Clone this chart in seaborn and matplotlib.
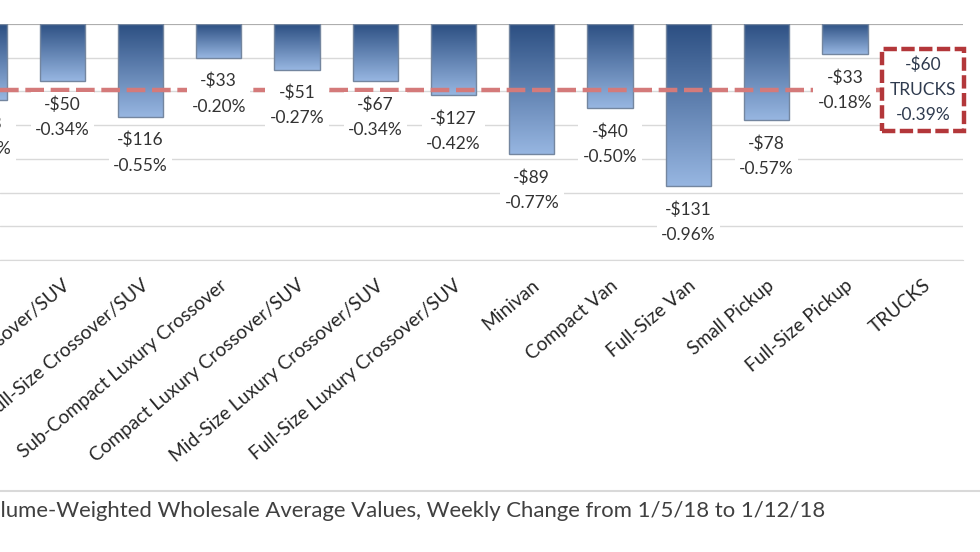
import numpy as np
import pandas as pd
import matplotlib.pyplot as plt
import seaborn as sns
from matplotlib.colors import LinearSegmentedColormap
from matplotlib.lines import Line2D

# Segment data (weekly change, 1/5/18 -> 1/12/18)
segments = ["Compact Crossover/SUV", "Mid-Size Crossover/SUV", "Full-Size Crossover/SUV",
            "Sub-Compact Luxury Crossover", "Compact Luxury Crossover/SUV",
            "Mid-Size Luxury Crossover/SUV", "Full-Size Luxury Crossover/SUV",
            "Minivan", "Compact Van", "Full-Size Van", "Small Pickup",
            "Full-Size Pickup", "TRUCKS"]
dollar_change = [-63, -50, -116, -33, -51, -67, -127, -89, -40, -131, -78, -33, -60]
pct_change = [-0.45, -0.34, -0.55, -0.20, -0.27, -0.34, -0.42, -0.77, -0.50, -0.96,
              -0.57, -0.18, -0.39]
caption = "Volume-Weighted Wholesale Average Values, Weekly Change from 1/5/18 to 1/12/18"

df = pd.DataFrame({"Segment": segments, "Pct": pct_change, "Dollar": dollar_change})

sns.set_style("white")
plt.rcParams['font.family'] = ['Lato', 'DejaVu Sans']

fig = plt.figure(figsize=(9.8, 5.52), dpi=100)
ax = fig.add_axes([0, 1 - 260 / 552, 963 / 980, (260 - 24) / 552])

sns.barplot(data=df, x="Segment", y="Pct", color="#5b7fb5", edgecolor="#74869f",
            linewidth=1, width=0.58, ax=ax, zorder=3)

# gradient fill for the bars
cmap = LinearSegmentedColormap.from_list("bar", ["#2c4f82", "#97b6e1"])
grad = np.linspace(0, 1, 256).reshape(-1, 1)
for patch, seg in zip(ax.patches, segments):
    if seg == "TRUCKS":
        patch.set_visible(False)
        continue
    x0, y0 = patch.get_x(), patch.get_y()
    w, h = patch.get_width(), patch.get_height()
    im = ax.imshow(grad, cmap=cmap, aspect="auto", origin="upper",
                   extent=[x0, x0 + w, y0 + h, y0], zorder=2.5)
    im.set_clip_path(patch)
    patch.set_facecolor("none")

ax.set_xticks(range(len(segments)))
ax.set_xticklabels(segments, rotation=40, ha="right", rotation_mode="anchor",
                   fontsize=13.8, color="#262626")
ax.set_yticks(np.arange(-1.4, 0.01, 0.2))
ax.set_yticklabels([])
ax.set_xlim(0.2045, 12.51)
ax.set_ylim(-1.4, 0)
ax.yaxis.grid(True, color="#d9d9d9", lw=1)
ax.set_axisbelow(True)
ax.axhline(0, color="#a6a6a6", lw=1.2, zorder=1)
for s in ["top", "left", "right"]:
    ax.spines[s].set_visible(False)
ax.spines["bottom"].set_color("#d9d9d9")
ax.set_xlabel("")
ax.set_ylabel("")
ax.tick_params(axis="both", length=0)
ax.tick_params(axis="x", pad=12)

# overall trucks average line
trucks_pct = pct_change[segments.index("TRUCKS")]
ax.axhline(trucks_pct, xmin=0, xmax=0.915, color="#d47a7a", lw=3.2,
           ls=(0, (4.2, 1.5)), zorder=3.5)

# data labels
for i, (d, p, seg) in enumerate(zip(dollar_change, pct_change, segments)):
    if seg == "TRUCKS":
        ax.text(i, p, f"-\\${abs(d)}\n{seg}\n{p:.2f}%", ha="center", va="center",
                fontsize=12.5, color="#2f3b4f", linespacing=1.7, zorder=6,
                bbox=dict(boxstyle="square,pad=0.45", fc="white", ec="#b3373a",
                          lw=3.2, ls=(0, (3, 1))))
    else:
        ax.annotate(f"-\\${abs(d)}\n{p:.2f}%", (i, p), xytext=(0, -11),
                    textcoords="offset points", ha="center", va="top",
                    fontsize=12.5, color="#333333", linespacing=1.7, zorder=5,
                    annotation_clip=False,
                    bbox=dict(boxstyle="square,pad=0.25", fc="white", ec="none"))

fig.add_artist(Line2D([0, 1], [1 - 491 / 552] * 2, transform=fig.transFigure,
                      color="#d9d9d9", lw=1.5))
fig.text(825 / 980, 1 - 511 / 552, caption, ha="right", va="center",
         fontsize=15.9, color="#404040")

fig.savefig("out.png", dpi=100)
